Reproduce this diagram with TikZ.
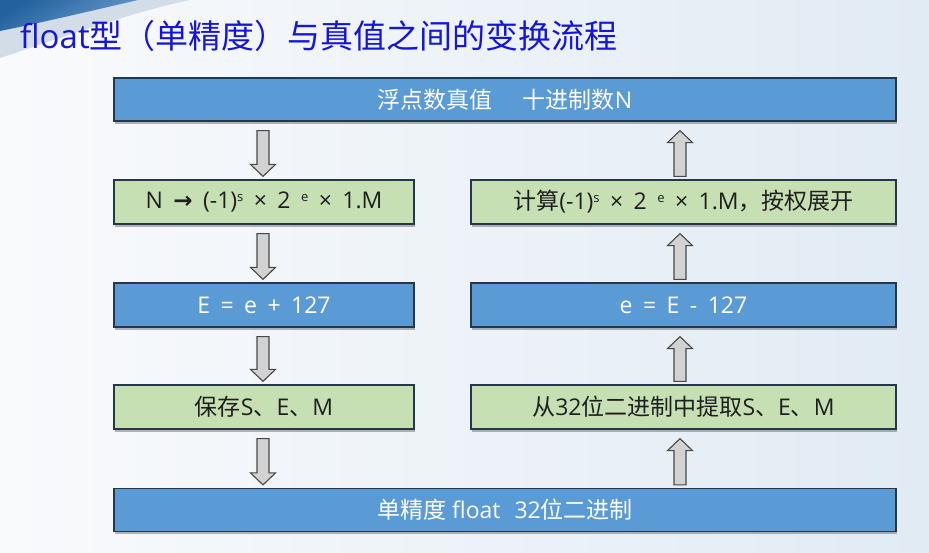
\documentclass[tikz,border=0pt]{standalone}
\usepackage{fontspec}
\setmainfont{Open Sans}[WordSpace=1.75]
\newfontfamily\cjk{Noto Sans CJK SC}
\newfontfamily\symfont{DejaVu Sans}
\usetikzlibrary{calc,shadows}

\definecolor{boxblue}{HTML}{5B9BD5}
\definecolor{boxgreen}{HTML}{C6E0B4}
\definecolor{boxline}{HTML}{26374A}
\definecolor{titleblue}{HTML}{1616DA}
\definecolor{arrowfill}{HTML}{D2D2D2}
\definecolor{arrowline}{HTML}{474747}
\definecolor{bgleft}{HTML}{F9FAFC}
\definecolor{bgright}{HTML}{E1EBF4}
\definecolor{swooshdark}{HTML}{22609E}
\definecolor{swooshlight}{HTML}{6E9DCB}
\definecolor{swooshband}{HTML}{D3DDE8}

% small raised exponent
\newcommand\expo[1]{\raisebox{0.32em}{\fontsize{13pt}{13pt}\selectfont #1}}
% Chinese text in the box size
\newcommand\zh[1]{{\cjk\fontsize{23pt}{26pt}\selectfont #1}}

\tikzset{
  x=1pt, y=-1pt,
  box/.style={draw=boxline, line width=1.2pt, rectangle, inner sep=0pt,
    font=\fontsize{23pt}{26pt}\selectfont,
    general shadow={fill=black, opacity=0.28, shadow xshift=1.2pt, shadow yshift=-2.5pt}},
  bluebox/.style={box, fill=boxblue, text=white},
  greenbox/.style={box, fill=boxgreen, text=black!88},
  wide/.style={minimum width=782pt, minimum height=43pt},
  leftcol/.style={minimum width=300pt, minimum height=44pt},
  rightcol/.style={minimum width=425pt, minimum height=44pt},
  % hollow block arrow from the start point to the target point
  blockarrow/.style={draw=arrowline, fill=arrowfill, line width=1.1pt, line join=miter,
    to path={
      ($(\tikztostart)!6pt!90:(\tikztotarget)$)
      -- ($(\tikztotarget)!12pt!(\tikztostart)!6pt!-90:(\tikztostart)$)
      -- ($(\tikztotarget)!12pt!(\tikztostart)!12.5pt!-90:(\tikztostart)$)
      -- (\tikztotarget)
      -- ($(\tikztotarget)!12pt!(\tikztostart)!12.5pt!90:(\tikztostart)$)
      -- ($(\tikztotarget)!12pt!(\tikztostart)!6pt!90:(\tikztostart)$)
      -- ($(\tikztostart)!6pt!-90:(\tikztotarget)$)
      -- cycle}}
}

\begin{document}
\begin{tikzpicture}
  % page background
  \shade[left color=bgleft, right color=bgright] (0,0) rectangle (929,552);
  \useasboundingbox (0,0) rectangle (929,552);

  % corner swoosh
  \fill[swooshband] (0,0) -- (0,58) .. controls (50,42) and (120,15) .. (190,0) -- cycle;
  \shade[top color=swooshdark, bottom color=swooshlight, shading angle=30]
    (0,0) -- (0,31) .. controls (40,23) and (95,10) .. (138,0) -- cycle;

  % title
  \node[anchor=base west, inner sep=0pt, text=titleblue,
        font=\fontsize{33pt}{36pt}\selectfont] (title) at (20,48)
    {float{\cjk 型（单精度）与真值之间的变换流程}};

  % boxes
  \node[bluebox, wide] (top) at (505,99.5) {\zh{浮点数真值}\hspace{30pt}\zh{十进制数}N};

  \node[greenbox, leftcol] (l1) at (264,202)
    {N {\symfont\bfseries →} (-1)\expo{s} × 2 \expo{e} × 1.M};
  \node[bluebox, leftcol] (l2) at (264,305) {E = e + 127};
  \node[greenbox, leftcol] (l3) at (264,407) {\zh{保存}S\zh{、}E\zh{、}M};

  \node[greenbox, rightcol] (r1) at (683.5,202)
    {\zh{计算}(-1)\expo{s} × 2 \expo{e} × 1.M\zh{，按权展开}};
  \node[bluebox, rightcol] (r2) at (683.5,305) {e = E - 127};
  \node[greenbox, rightcol] (r3) at (683.5,407) {\zh{从}32\zh{位二进制中提取}S\zh{、}E\zh{、}M};

  \node[bluebox, wide] (bot) at (505,510) {\zh{单精度}\hspace{6pt}float\hspace{14pt}32\zh{位二进制}};

  % arrow end points: downward on the left, upward on the right
  \coordinate (d1s) at ($(top.south -| l1.north)+(-1,9)$);
  \coordinate (d1t) at ($(l1.north)+(-1,-3)$);
  \coordinate (d2s) at ($(l1.south)+(-1,9)$);
  \coordinate (d2t) at ($(l2.north)+(-1,-3)$);
  \coordinate (d3s) at ($(l2.south)+(-1,9)$);
  \coordinate (d3t) at ($(l3.north)+(-1,-3)$);
  \coordinate (d4s) at ($(l3.south)+(-1,9)$);
  \coordinate (d4t) at ($(bot.north -| l3.south)+(-1,-3)$);

  \coordinate (u1s) at ($(bot.north -| r3.south)+(-3.5,-3)$);
  \coordinate (u1t) at ($(r3.south)+(-3.5,9)$);
  \coordinate (u2s) at ($(r3.north)+(-3.5,-3)$);
  \coordinate (u2t) at ($(r2.south)+(-3.5,9)$);
  \coordinate (u3s) at ($(r2.north)+(-3.5,-3)$);
  \coordinate (u3t) at ($(r1.south)+(-3.5,9)$);
  \coordinate (u4s) at ($(r1.north)+(-3.5,-3)$);
  \coordinate (u4t) at ($(top.south -| r1.north)+(-3.5,9)$);

  \foreach \a in {d1,d2,d3,d4,u1,u2,u3,u4}
    \draw[blockarrow] (\a s) to (\a t);
\end{tikzpicture}
\end{document}
